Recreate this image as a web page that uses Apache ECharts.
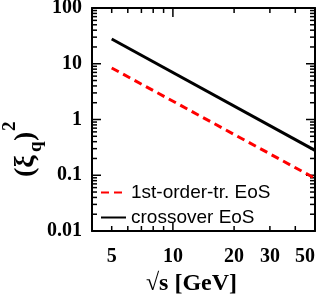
<!DOCTYPE html>
<html>
<head>
<meta charset="utf-8">
<script src="https://cdn.jsdelivr.net/npm/echarts@6/dist/echarts.min.js"></script>
<style>html,body{margin:0;padding:0;background:#fff}#c{width:327px;height:294px}</style>
</head>
<body>
<div id="c"></div>
<script>
// ---- data ----
const seriesNames = ['1st-order-tr. EoS', 'crossover EoS'];
const sqrtS = [5, 50];                       // GeV
const firstOrderXi2 = [8.4, 0.088];
const crossoverXi2 = [27.8, 0.28];
const xTickLabels = [5, 10, 20, 30, 50];
const xMajorTicks = [10];
const xMinorTicks = [5, 6, 7, 8, 9, 20, 30, 40];
const yTickLabels = [0.01, 0.1, 1, 10, 100];
const yMajorTicks = [0.01, 0.1, 1, 10, 100];
const yMinorTicks = [0.02, 0.03, 0.04, 0.05, 0.06, 0.07, 0.08, 0.09,
                     0.2, 0.3, 0.4, 0.5, 0.6, 0.7, 0.8, 0.9,
                     2, 3, 4, 5, 6, 7, 8, 9,
                     20, 30, 40, 50, 60, 70, 80, 90];
const xRange = [4, 50];
const yRange = [0.01, 100];

const serif = 'Liberation Serif';
const fmt = v => String(+(+v).toPrecision(3));

function baseAxis(range, pos) {
  return {
    type: 'log', logBase: 10, min: range[0], max: range[1], position: pos,
    axisLine: { show: true, lineStyle: { color: '#000', width: 2 } },
    axisTick: { show: false },
    splitLine: { show: false },
    axisLabel: { show: false }
  };
}
const xBottom = baseAxis(xRange, 'bottom');
xBottom.axisLabel = { show: true, customValues: xTickLabels, formatter: fmt, margin: 16, alignMaxLabel: 'right',
  fontFamily: serif, fontWeight: 'bold', fontSize: 20, color: '#000' };
xBottom.name = '√s [GeV]';
xBottom.nameLocation = 'middle';
xBottom.nameGap = 40;
xBottom.nameTextStyle = { fontFamily: serif, fontWeight: 'bold', fontSize: 24, color: '#000', padding: [0, 24, 0, 0] };
const xTop = baseAxis(xRange, 'top');

const yLeft = baseAxis(yRange, 'left');
yLeft.axisLabel = { show: true, customValues: yTickLabels, formatter: fmt, margin: 10,
  fontFamily: serif, fontWeight: 'bold', fontSize: 20, color: '#000' };
const yRight = baseAxis(yRange, 'right');

// tick marks (inside, on all four sides), placed through the axes' own scales
const tickMeta = [].concat(
  xMajorTicks.map(v => ({ axis: 'x', v, major: true })),
  xMinorTicks.map(v => ({ axis: 'x', v, major: false })),
  yMajorTicks.map(v => ({ axis: 'y', v, major: true })),
  yMinorTicks.map(v => ({ axis: 'y', v, major: false }))
);
const tickData = tickMeta.map(t => t.axis === 'x' ? [t.v, yRange[0]] : [xRange[0], t.v]);
const tickStyle = { stroke: '#000', lineWidth: 1.5 };
function renderTick(params, api) {
  const t = tickMeta[params.dataIndex];
  const len = t.major ? 9 : 5;
  if (t.axis === 'x') {
    const b = api.coord([t.v, yRange[0]]);
    const tp = api.coord([t.v, yRange[1]]);
    return { type: 'group', children: [
      { type: 'line', shape: { x1: b[0], y1: b[1], x2: b[0], y2: b[1] - len }, style: tickStyle },
      { type: 'line', shape: { x1: tp[0], y1: tp[1], x2: tp[0], y2: tp[1] + len }, style: tickStyle }
    ] };
  }
  const l = api.coord([xRange[0], t.v]);
  const r = api.coord([xRange[1], t.v]);
  return { type: 'group', children: [
    { type: 'line', shape: { x1: l[0], y1: l[1], x2: l[0] + len, y2: l[1] }, style: tickStyle },
    { type: 'line', shape: { x1: r[0], y1: r[1], x2: r[0] - len, y2: r[1] }, style: tickStyle }
  ] };
}

function titlePiece(text, x, y, size) {
  return { type: 'text', x, y, rotation: Math.PI / 2,
    style: { text, fontFamily: serif, fontWeight: 'bold', fontSize: size, fill: '#000', align: 'left', verticalAlign: 'middle' } };
}

const chart = echarts.init(document.getElementById('c'), null, { renderer: 'canvas' });
chart.setOption({
  animation: false,
  grid: { left: 92, right: 12, top: 8, bottom: 63, containLabel: false, outerBoundsMode: 'none' },
  xAxis: [xBottom, xTop],
  yAxis: [yLeft, yRight],
  legend: {
    orient: 'vertical', left: 100, top: 183, padding: 0, itemWidth: 25, itemHeight: 14, itemGap: 6,
    itemStyle: { opacity: 0 },
    textStyle: { fontFamily: 'Liberation Sans', fontSize: 19, color: '#000' },
    data: seriesNames
  },
  graphic: [
    titlePiece('(ξ', 26, 177, 28),
    titlePiece('q', 36, 152, 19),
    titlePiece(')', 26, 141, 28),
    titlePiece('2', 10, 131, 19)
  ],
  series: [
    {
      name: seriesNames[0], type: 'line', symbol: 'none',
      lineStyle: { color: '#ff0000', width: 3, type: [8, 5] }, itemStyle: { color: '#ff0000' },
      data: sqrtS.map((s, i) => [s, firstOrderXi2[i]])
    },
    {
      name: seriesNames[1], type: 'line', symbol: 'none',
      lineStyle: { color: '#000', width: 3 }, itemStyle: { color: '#000' },
      data: sqrtS.map((s, i) => [s, crossoverXi2[i]])
    },
    {
      name: 'ticks', type: 'custom', silent: true, clip: false,
      renderItem: renderTick, data: tickData, z: 3
    }
  ]
});
</script>
</body>
</html>
